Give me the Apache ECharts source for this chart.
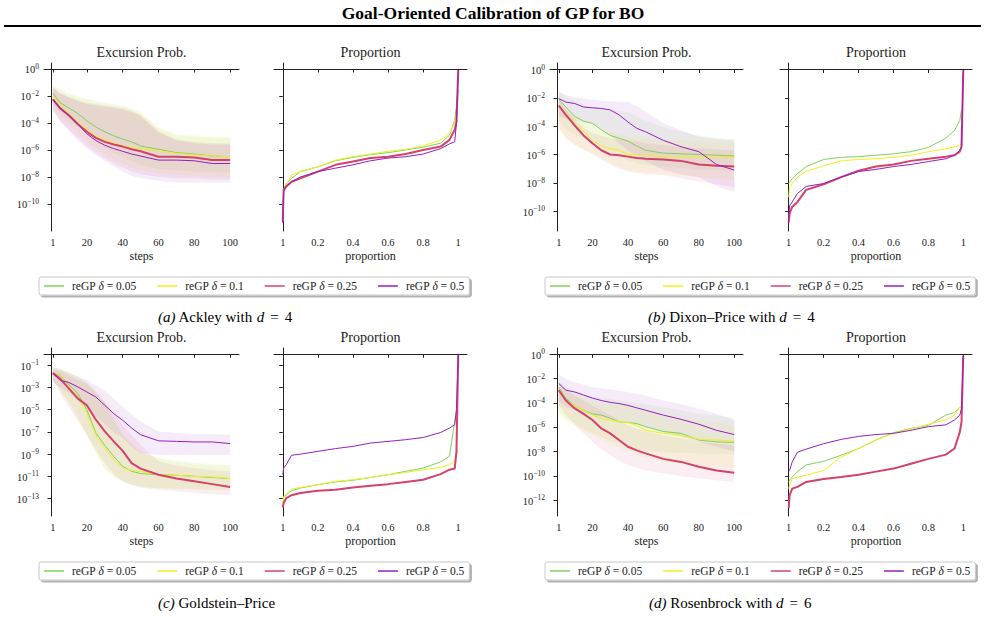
<!DOCTYPE html>
<html>
<head>
<meta charset="utf-8">
<script src="https://cdn.jsdelivr.net/npm/echarts@6/dist/echarts.min.js"></script>
<style>
html, body { margin: 0; padding: 0; background: #fff; }
#main { width: 985px; height: 617px; }
</style>
</head>
<body>
<div id="main"></div>
<script>
'use strict';

// legend names / colours (order: delta 0.05, 0.1, 0.25, 0.5)
const arrName = ['reGP δ = 0.05', 'reGP δ = 0.1', 'reGP δ = 0.25', 'reGP δ = 0.5'];
const arrColor = ['#7fd25a', '#f0f01e', '#d5416b', '#9420c0'];
const arrBand = ['rgba(127,210,90,0.09)', 'rgba(240,240,30,0.1)', 'rgba(213,65,107,0.09)', 'rgba(148,32,192,0.09)'];
const arrWidth = [1, 1, 2, 1];

// x values
const arrSteps = [1, 5, 10, 15, 20, 25, 30, 35, 40, 45, 50, 60, 70, 80, 90, 100];
const arrProp = [0, 0.005, 0.02, 0.05, 0.1, 0.2, 0.3, 0.4, 0.5, 0.6, 0.7, 0.8, 0.9, 0.95, 0.98, 0.99, 1];
const propTicks = [0, 0.2, 0.4, 0.6, 0.8, 1];
const propTickLabels = ['1', '0.2', '0.4', '0.6', '0.8', '1'];
const stepTicks = [1, 20, 40, 60, 80, 100];

// all values are log10 of the excursion probability
// (a) Ackley d=4
const ackleyMean = [
    [-1.8, -2.5, -2.9, -3.3, -3.85, -4.3, -4.65, -4.95, -5.2, -5.4, -5.7, -5.95, -6.2, -6.3, -6.45, -6.5],
    [-2.05, -2.6, -3.3, -3.9, -4.45, -5.0, -5.25, -5.5, -5.7, -5.8, -5.9, -6.05, -6.25, -6.35, -6.45, -6.5],
    [-2.25, -2.9, -3.45, -4.1, -4.65, -5.1, -5.4, -5.6, -5.75, -5.95, -6.1, -6.5, -6.5, -6.55, -6.75, -6.75],
    [-2.25, -2.9, -3.45, -4.1, -4.8, -5.3, -5.65, -5.9, -6.1, -6.3, -6.45, -6.75, -6.75, -6.8, -7.0, -7.0]
];
const ackleyHigh = [
    [-1.2, -1.5, -1.8, -2.0, -2.2, -2.35, -2.5, -2.6, -2.7, -2.9, -3.2, -4.4, -4.9, -5.0, -5.1, -5.1],
    [-1.3, -1.6, -1.9, -2.1, -2.3, -2.5, -2.6, -2.7, -2.8, -3.0, -3.3, -4.3, -4.8, -4.9, -5.0, -5.0],
    [-1.4, -1.8, -2.1, -2.3, -2.5, -2.6, -2.7, -2.8, -2.9, -3.1, -3.4, -4.6, -5.2, -5.4, -5.5, -5.5],
    [-1.4, -1.8, -2.1, -2.4, -2.6, -2.7, -2.8, -2.9, -3.0, -3.2, -3.5, -4.7, -5.3, -5.5, -5.6, -5.6]
];
const ackleyLow = [
    [-2.6, -3.2, -3.8, -4.3, -4.9, -5.4, -5.8, -6.2, -6.5, -6.8, -7.1, -7.4, -7.5, -7.6, -7.6, -7.7],
    [-2.8, -3.5, -4.2, -4.8, -5.4, -5.9, -6.3, -6.7, -7.0, -7.3, -7.5, -7.7, -7.8, -7.9, -8.0, -8.0],
    [-3.0, -3.8, -4.5, -5.1, -5.7, -6.2, -6.6, -7.0, -7.3, -7.6, -7.8, -8.0, -8.1, -8.1, -8.2, -8.2],
    [-3.1, -3.9, -4.6, -5.3, -5.9, -6.4, -6.8, -7.2, -7.6, -7.9, -8.1, -8.3, -8.4, -8.4, -8.4, -8.4]
];
const ackleyPropVal = [
    [-11.3, -8.95, -8.5, -8.1, -7.6, -7.25, -6.8, -6.55, -6.35, -6.2, -6.0, -5.8, -5.5, -4.9, -3.8, -2.8, -1.55],
    [-11.2, -8.9, -8.6, -7.85, -7.6, -7.25, -6.75, -6.5, -6.3, -6.1, -5.95, -5.7, -5.25, -4.75, -4.0, -3.3, -2.05],
    [-11.3, -8.95, -8.7, -8.35, -8.1, -7.6, -7.1, -6.85, -6.6, -6.5, -6.3, -6.0, -5.75, -5.25, -4.5, -3.9, -0.1],
    [-11.4, -9.1, -8.7, -8.35, -8.0, -7.6, -7.35, -7.1, -6.8, -6.6, -6.5, -6.3, -5.9, -5.55, -5.4, -4.0, -0.1]
];

// (b) Dixon-Price d=4
const dixonMean = [
    [-2.1, -2.65, -3.3, -3.65, -3.8, -4.25, -4.65, -4.85, -5.05, -5.4, -5.7, -5.9, -5.95, -6.0, -6.05, -6.1],
    [-2.5, -3.1, -3.75, -4.35, -5.0, -5.4, -5.6, -5.7, -6.0, -6.02, -6.05, -6.15, -6.15, -6.2, -6.2, -6.2],
    [-2.55, -3.2, -3.95, -4.65, -5.2, -5.7, -6.0, -6.05, -6.15, -6.25, -6.3, -6.35, -6.45, -6.7, -6.8, -6.85],
    [-2.05, -2.3, -2.4, -2.65, -2.7, -2.75, -2.85, -3.2, -3.7, -4.15, -4.4, -5.0, -5.45, -5.8, -6.7, -7.1]
];
const dixonHigh = [
    [-1.6, -1.9, -2.2, -2.45, -2.65, -2.75, -2.85, -2.95, -3.0, -3.3, -3.6, -4.05, -4.4, -4.65, -4.8, -4.9],
    [-2.0, -2.6, -3.2, -3.7, -4.05, -4.3, -4.45, -4.55, -4.65, -4.75, -4.85, -4.95, -5.0, -5.05, -5.1, -5.1],
    [-2.1, -2.8, -3.5, -4.1, -4.5, -4.7, -4.85, -4.95, -5.0, -5.1, -5.2, -5.35, -5.45, -5.55, -5.65, -5.7],
    [-1.6, -1.8, -1.95, -2.05, -2.15, -2.2, -2.25, -2.3, -2.3, -2.6, -3.0, -3.8, -4.3, -4.75, -4.9, -5.0]
];
const dixonLow = [
    [-3.6, -4.2, -4.6, -4.85, -5.0, -5.4, -5.8, -6.1, -6.4, -6.6, -6.75, -6.85, -6.95, -7.05, -7.1, -7.2],
    [-4.3, -4.9, -5.4, -5.7, -5.95, -6.3, -6.6, -6.9, -7.1, -7.2, -7.3, -7.35, -7.5, -7.6, -7.7, -7.8],
    [-4.05, -4.8, -5.3, -5.65, -5.95, -6.35, -6.7, -7.0, -7.2, -7.3, -7.4, -7.45, -7.7, -7.9, -8.1, -8.3],
    [-3.3, -3.5, -3.6, -3.7, -3.8, -4.2, -4.7, -5.2, -5.7, -6.1, -6.5, -7.1, -7.4, -7.6, -8.2, -8.65]
];
const dixonPropVal = [
    [-8.05, -7.95, -7.7, -7.35, -6.85, -6.35, -6.2, -6.15, -6.05, -5.95, -5.8, -5.5, -4.85, -4.3, -3.6, -2.85, -2.75],
    [-9.0, -8.3, -8.05, -7.6, -7.2, -6.8, -6.45, -6.35, -6.3, -6.2, -6.05, -5.8, -5.6, -5.45, -5.35, -5.3, -5.3],
    [-10.8, -10.15, -9.7, -9.35, -8.5, -8.1, -7.6, -7.15, -6.85, -6.7, -6.45, -6.3, -6.15, -6.05, -5.8, -5.45, -0.05],
    [-10.75, -9.6, -9.35, -8.75, -8.25, -8.05, -7.6, -7.2, -7.05, -6.85, -6.7, -6.5, -6.3, -6.05, -5.7, -5.45, -0.05]
];

// (c) Goldstein-Price
const goldMean = [
    [-1.7, -1.9, -2.75, -3.55, -5.0, -7.1, -8.2, -9.2, -10.1, -10.55, -10.75, -10.85, -10.9, -11.0, -11.1, -11.2],
    [-1.7, -1.95, -2.95, -3.85, -5.3, -7.25, -8.45, -9.5, -10.25, -10.45, -10.55, -10.85, -10.9, -11.0, -11.05, -11.2],
    [-1.7, -2.2, -3.1, -4.0, -4.6, -5.9, -6.95, -7.85, -8.7, -9.8, -10.3, -10.85, -11.2, -11.45, -11.7, -11.95],
    [-1.7, -2.35, -2.55, -2.95, -3.4, -3.85, -4.6, -5.35, -5.95, -6.65, -7.25, -7.8, -7.85, -7.9, -7.9, -8.05]
];
const goldHigh = [
    [-1.15, -1.3, -1.6, -2.0, -2.5, -3.3, -4.3, -5.8, -7.25, -8.1, -8.75, -9.35, -9.6, -9.8, -9.9, -9.95],
    [-1.15, -1.3, -1.6, -2.1, -2.6, -3.4, -4.4, -5.9, -7.3, -8.2, -8.8, -9.4, -9.7, -9.9, -10.0, -10.05],
    [-1.3, -1.5, -1.9, -2.3, -2.65, -3.4, -4.3, -5.3, -6.35, -7.3, -8.15, -9.65, -10.0, -10.25, -10.45, -10.55],
    [-1.15, -1.4, -1.7, -2.0, -2.35, -2.8, -3.3, -4.0, -4.75, -5.4, -6.05, -6.95, -7.1, -7.2, -7.2, -7.25]
];
const goldLow = [
    [-2.35, -3.2, -4.3, -5.7, -7.25, -8.8, -10.25, -11.0, -11.45, -11.7, -11.9, -12.05, -12.1, -12.15, -12.2, -12.2],
    [-2.35, -3.3, -4.5, -5.9, -7.4, -9.0, -10.4, -11.1, -11.5, -11.75, -11.95, -12.1, -12.15, -12.2, -12.25, -12.25],
    [-2.35, -3.5, -4.8, -6.0, -7.25, -8.6, -9.8, -10.8, -11.45, -11.8, -12.0, -12.2, -12.35, -12.5, -12.6, -12.7],
    [-2.5, -3.0, -3.5, -4.2, -4.9, -5.6, -6.3, -7.0, -7.55, -8.3, -8.9, -9.05, -9.05, -9.05, -9.05, -9.05]
];
const goldPropVal = [
    [-13.7, -12.95, -12.65, -12.3, -12.05, -11.75, -11.5, -11.35, -11.1, -10.85, -10.55, -10.25, -9.7, -9.2, -6.05, -5.2, -5.2],
    [-13.7, -12.8, -12.6, -12.15, -12.0, -11.75, -11.45, -11.3, -11.1, -10.85, -10.65, -10.4, -10.2, -9.95, -9.65, -8.75, -8.75],
    [-13.8, -13.4, -12.95, -12.7, -12.5, -12.3, -12.2, -12.0, -11.85, -11.7, -11.5, -11.3, -10.8, -10.4, -10.3, -8.75, -0.1],
    [-10.85, -10.25, -9.95, -9.1, -9.0, -8.75, -8.5, -8.3, -8.0, -7.85, -7.7, -7.5, -7.05, -6.65, -6.35, -4.9, -0.1]
];

// (d) Rosenbrock d=6
const rosenMean = [
    [-2.7, -3.65, -4.2, -4.6, -4.9, -5.0, -5.25, -5.55, -5.6, -5.7, -5.95, -6.35, -6.5, -7.05, -7.2, -7.25],
    [-2.8, -3.8, -4.2, -4.6, -5.0, -5.3, -5.4, -5.55, -5.6, -5.85, -6.25, -6.5, -6.65, -7.0, -7.05, -7.15],
    [-2.95, -3.8, -4.45, -4.9, -5.4, -6.1, -6.5, -7.05, -7.6, -7.9, -8.15, -8.6, -8.85, -9.25, -9.55, -9.75],
    [-2.4, -2.95, -3.1, -3.35, -3.6, -3.8, -3.95, -4.05, -4.2, -4.4, -4.6, -5.0, -5.35, -5.75, -6.25, -6.6]
];
const rosenHigh = [
    [-2.25, -2.7, -3.0, -3.3, -3.5, -3.6, -3.7, -3.8, -3.9, -4.0, -4.1, -4.35, -4.6, -4.9, -5.05, -5.15],
    [-2.4, -2.9, -3.3, -3.6, -3.9, -4.0, -4.05, -4.1, -4.2, -4.4, -4.6, -5.0, -5.2, -5.4, -5.6, -5.85],
    [-2.55, -3.0, -3.4, -3.8, -4.2, -4.6, -5.0, -5.4, -5.85, -6.1, -6.3, -6.65, -6.9, -7.2, -7.35, -7.5],
    [-1.65, -2.0, -2.3, -2.5, -2.7, -2.8, -2.9, -3.0, -3.1, -3.25, -3.4, -3.8, -4.1, -4.45, -4.9, -5.4]
];
const rosenLow = [
    [-4.75, -5.3, -5.7, -6.1, -6.5, -6.8, -7.1, -7.35, -7.6, -7.8, -7.95, -8.05, -8.1, -8.15, -8.2, -8.25],
    [-4.9, -5.5, -5.9, -6.3, -6.65, -7.0, -7.35, -7.7, -8.0, -8.3, -8.5, -8.85, -9.05, -9.25, -9.35, -9.4],
    [-4.2, -5.0, -5.8, -6.5, -7.2, -7.8, -8.3, -8.75, -9.1, -9.35, -9.55, -9.8, -10.0, -10.2, -10.35, -10.5],
    [-3.9, -4.3, -4.6, -4.85, -5.0, -5.15, -5.3, -5.45, -5.55, -5.75, -5.95, -6.4, -6.8, -7.2, -7.6, -8.0]
];
const rosenPropVal = [
    [-10.5, -10.35, -10.1, -9.65, -9.1, -8.8, -8.3, -7.75, -7.05, -6.45, -6.1, -5.85, -5.0, -4.8, -4.35, -4.35, -4.35],
    [-11.05, -10.75, -10.25, -10.1, -9.95, -9.55, -8.45, -7.75, -7.05, -6.5, -6.15, -5.75, -5.4, -5.0, -4.35, -4.35, -4.35],
    [-12.65, -11.6, -11.05, -10.9, -10.5, -10.25, -10.1, -9.9, -9.65, -9.4, -9.0, -8.6, -8.25, -7.75, -6.4, -5.55, -0.1],
    [-9.65, -9.55, -8.85, -8.05, -7.8, -7.35, -7.0, -6.75, -6.6, -6.5, -6.25, -5.95, -5.8, -5.4, -5.0, -4.45, -0.1]
];

// y tick exponents per panel
const ackleyTicks = [-10, -8, -6, -4, -2, 0];
const dixonTicks = [-10, -8, -6, -4, -2, 0];
const goldTicks = [-13, -11, -9, -7, -5, -3, -1];
const rosenTicks = [-12, -10, -8, -6, -4, -2, 0];

const SERIF = 'Liberation Serif';
const AXIS_COLOR = '#222';

// layout of the four panels (pixels)
const arrPanel = [
    { mean: ackleyMean, high: ackleyHigh, low: ackleyLow, prop: ackleyPropVal, ticks: ackleyTicks, yMin: -12.0, yMax: 0.44,
      lLeft: 44, lWidth: 195, rLeft: 274, rWidth: 193, top: 63, legLeft: 39, legTop: 277,
      tag: '(a)', caption: ' Ackley with ', math: 'd', num: '4', capX: 158, capY: 317 },
    { mean: dixonMean, high: dixonHigh, low: dixonLow, prop: dixonPropVal, ticks: dixonTicks, yMin: -11.4, yMax: 0.46,
      lLeft: 550, lWidth: 193, rLeft: 780, rWidth: 192, top: 63, legLeft: 545, legTop: 277,
      tag: '(b)', caption: ' Dixon–Price with ', math: 'd', num: '4', capX: 648, capY: 317 },
    { mean: goldMean, high: goldHigh, low: goldLow, prop: goldPropVal, ticks: goldTicks, yMin: -14.57, yMax: 0.56,
      lLeft: 44, lWidth: 195, rLeft: 274, rWidth: 193, top: 348, legLeft: 39, legTop: 562,
      tag: '(c)', caption: ' Goldstein–Price', math: '', num: '', capX: 158, capY: 603 },
    { mean: rosenMean, high: rosenHigh, low: rosenLow, prop: rosenPropVal, ticks: rosenTicks, yMin: -13.3, yMax: 0.52,
      lLeft: 550, lWidth: 193, rLeft: 780, rWidth: 192, top: 348, legLeft: 545, legTop: 562,
      tag: '(d)', caption: ' Rosenbrock with ', math: 'd', num: '6', capX: 649, capY: 603 }
];
const PLOT_H = 168;

const expLabel = (v) => {
    const n = Math.round(v);
    return '{b|10}{s|' + (n < 0 ? '−' : '') + Math.abs(n) + '}';
};

const axisLineStyle = { show: true, lineStyle: { color: AXIS_COLOR, width: 1 } };

const arrGrid = [];
const arrX = [];
const arrY = [];
const arrSeries = [];
const arrLegend = [];
const arrGraphic = [];

// shaded band drawn through the axis scale
const bandRender = (xs, lo, hi, color) => (params, api) => {
    if (params.dataIndex !== 0) return null;
    const upper = xs.map((x, j) => api.coord([x, hi[j]]));
    const lower = xs.map((x, j) => api.coord([x, lo[j]])).reverse();
    return {
        type: 'polygon',
        shape: { points: upper.concat(lower) },
        style: { fill: color }
    };
};

arrPanel.forEach((p, i) => {
    const gL = 2 * i;
    const gR = 2 * i + 1;
    arrGrid.push({ left: p.lLeft, top: p.top, width: p.lWidth, height: PLOT_H });
    arrGrid.push({ left: p.rLeft, top: p.top, width: p.rWidth, height: PLOT_H });

    const nameStyle = { fontFamily: SERIF, fontSize: 12, color: '#222' };
    arrX.push({
        type: 'value', gridIndex: gL, min: -3.95, max: 104.95,
        axisLine: axisLineStyle,
        axisTick: { show: true, length: 3.5, customValues: stepTicks, lineStyle: { color: AXIS_COLOR } },
        axisLabel: { customValues: stepTicks, margin: 6, fontFamily: SERIF, fontSize: 10.5, color: '#222' },
        splitLine: { show: false },
        name: 'steps', nameLocation: 'middle', nameGap: 19, nameTextStyle: nameStyle
    });
    arrX.push({
        type: 'value', gridIndex: gR, min: -0.05, max: 1.05,
        axisLine: axisLineStyle,
        axisTick: { show: true, length: 3.5, customValues: propTicks, lineStyle: { color: AXIS_COLOR } },
        axisLabel: {
            customValues: propTicks, margin: 6, fontFamily: SERIF, fontSize: 10.5, color: '#222',
            formatter: (v) => propTickLabels[propTicks.indexOf(Math.round(v * 10) / 10)]
        },
        splitLine: { show: false },
        name: 'proportion', nameLocation: 'middle', nameGap: 19, nameTextStyle: nameStyle
    });

    const richExp = {
        b: { fontFamily: SERIF, fontSize: 10.5, color: '#222', verticalAlign: 'bottom' },
        s: { fontFamily: SERIF, fontSize: 7.5, color: '#222', verticalAlign: 'bottom', padding: [0, 0, 5, 0] }
    };
    arrY.push({
        type: 'value', gridIndex: gL, min: p.yMin, max: p.yMax,
        axisLine: axisLineStyle,
        axisTick: { show: true, length: 3.5, customValues: p.ticks, lineStyle: { color: AXIS_COLOR } },
        axisLabel: { customValues: p.ticks, margin: 5, formatter: expLabel, rich: richExp },
        splitLine: { show: false }
    });
    arrY.push({
        type: 'value', gridIndex: gR, min: p.yMin, max: p.yMax,
        axisLine: axisLineStyle,
        axisTick: { show: true, length: 3.5, customValues: p.ticks, lineStyle: { color: AXIS_COLOR } },
        axisLabel: { show: false },
        splitLine: { show: false }
    });

    // confidence bands
    for (let k = 0; k < 4; k++) {
        arrSeries.push({
            type: 'custom', name: 'band', xAxisIndex: gL, yAxisIndex: gL,
            silent: true, z: 1, clip: true,
            renderItem: bandRender(arrSteps, p.low[k], p.high[k], arrBand[k]),
            encode: { x: 0, y: [1, 2] },
            data: arrSteps.map((s, j) => [s, p.low[k][j], p.high[k][j]])
        });
    }
    // mean lines
    for (let k = 0; k < 4; k++) {
        arrSeries.push({
            type: 'line', name: arrName[k], xAxisIndex: gL, yAxisIndex: gL,
            symbol: 'none', z: 3,
            lineStyle: { color: arrColor[k], width: arrWidth[k] },
            itemStyle: { color: arrColor[k] },
            data: arrSteps.map((s, j) => [s, p.mean[k][j]])
        });
    }
    // proportion curves
    for (let k = 0; k < 4; k++) {
        arrSeries.push({
            type: 'line', name: arrName[k], xAxisIndex: gR, yAxisIndex: gR,
            symbol: 'none', z: 3,
            lineStyle: { color: arrColor[k], width: arrWidth[k] },
            itemStyle: { color: arrColor[k] },
            data: arrProp.map((x, j) => [x, p.prop[k][j]])
        });
    }

    arrLegend.push({
        data: arrName, left: p.legLeft, top: p.legTop, orient: 'horizontal',
        itemWidth: 20, itemHeight: 8, itemGap: 20,
        padding: [3, 5, 3, 4],
        backgroundColor: '#fff', borderColor: '#c8c8c8', borderWidth: 1, borderRadius: 2,
        shadowColor: 'rgba(0,0,0,0.3)', shadowOffsetX: 2, shadowOffsetY: 2, shadowBlur: 0,
        selectedMode: false,
        itemStyle: { opacity: 0, borderWidth: 0 },
        lineStyle: { opacity: 0.75 },
        formatter: (name) => '{t|reGP }{d|δ}{t| = ' + name.split('= ')[1] + '}',
        textStyle: {
            fontFamily: SERIF, fontSize: 11.5, color: '#222',
            padding: [0, 0, 0, 3],
            rich: {
                t: { fontFamily: SERIF, fontSize: 11.5, color: '#222' },
                d: { fontFamily: SERIF, fontSize: 11.5, fontStyle: 'italic', color: '#222' }
            }
        }
    });

    // subplot titles
    arrGraphic.push({
        type: 'text', x: p.lLeft + p.lWidth / 2, y: p.top - 11,
        style: { text: 'Excursion Prob.', font: '14px ' + SERIF, fill: '#222', align: 'center', verticalAlign: 'middle' }
    });
    arrGraphic.push({
        type: 'text', x: p.rLeft + p.rWidth / 2, y: p.top - 11,
        style: { text: 'Proportion', font: '14px ' + SERIF, fill: '#222', align: 'center', verticalAlign: 'middle' }
    });
    // caption
    let capText = '{i|' + p.tag + '}{t|' + p.caption + '}';
    if (p.math) capText += '{i|' + p.math + '}{eq|=}{t|' + p.num + '}';
    arrGraphic.push({
        type: 'text', x: p.capX, y: p.capY,
        style: {
            text: capText, fill: '#000', align: 'left', verticalAlign: 'middle',
            rich: {
                t: { fontFamily: SERIF, fontSize: 15, fill: '#000' },
                i: { fontFamily: SERIF, fontSize: 15, fontStyle: 'italic', fill: '#000' },
                eq: { fontFamily: SERIF, fontSize: 15, fill: '#000', padding: [0, 6, 0, 6] }
            }
        }
    });
});

arrGraphic.push({
    type: 'text', x: 493, y: 13,
    style: { text: 'Goal-Oriented Calibration of GP for BO', font: 'bold 17.5px ' + SERIF, fill: '#000', align: 'center', verticalAlign: 'middle' }
});
arrGraphic.push({
    type: 'line', shape: { x1: 4, y1: 26, x2: 981, y2: 26 },
    style: { stroke: '#000', lineWidth: 2 }
});

const chart = echarts.init(document.getElementById('main'), null, { renderer: 'svg' });
chart.setOption({
    animation: false,
    backgroundColor: '#fff',
    grid: arrGrid,
    xAxis: arrX,
    yAxis: arrY,
    legend: arrLegend,
    graphic: arrGraphic,
    series: arrSeries
});
</script>
</body>
</html>
